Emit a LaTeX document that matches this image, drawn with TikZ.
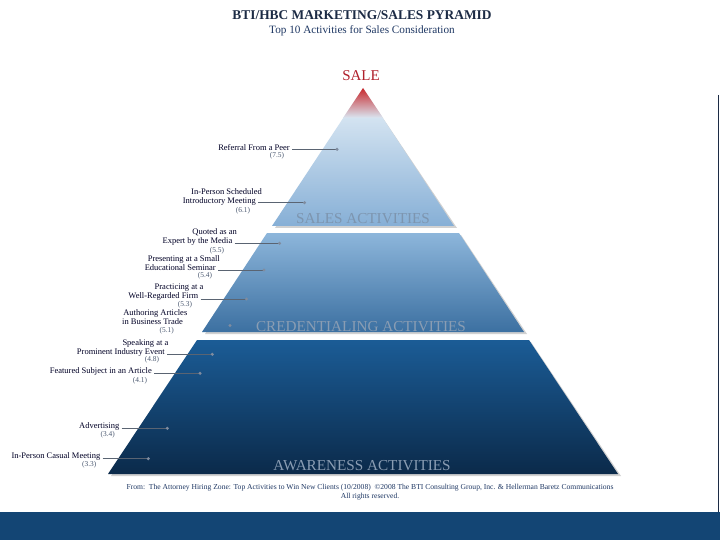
\documentclass[tikz,border=0pt]{standalone}
\usepackage{fontspec}
\setmainfont{Liberation Serif}
\begin{document}
\begin{tikzpicture}[x=1pt,y=-1pt,
  lbl/.style={inner sep=0pt,font=\fontsize{8.5}{9}\selectfont,text=black!85!blue,anchor=east},
  num/.style={inner sep=0pt,font=\fontsize{7.4}{8}\selectfont,text=numc},
  secl/.style={inner sep=0pt,font=\fontsize{15.2}{16}\selectfont,text=secc},
  lead/.style={draw=leadc,line width=0.7pt},
  shadowc/.style={fill=black,opacity=0.18}]
\definecolor{numc}{HTML}{4A5870}
\definecolor{secc}{HTML}{8A9DB3}
\definecolor{secc2}{HTML}{7D95AF}
\definecolor{leadc}{HTML}{5A6472}
\definecolor{dotcol}{HTML}{7F8CA0}
\definecolor{titc}{HTML}{1C2B45}
\definecolor{subc}{HTML}{1E3763}
\definecolor{band}{HTML}{134574}
\definecolor{salestop}{HTML}{E8F1F8}
\definecolor{salesbot}{HTML}{86AFD6}
\definecolor{credtop}{HTML}{8DB6DB}
\definecolor{credbot}{HTML}{3C70A1}
\definecolor{awtop}{HTML}{1B5C96}
\definecolor{awbot}{HTML}{0B2A4A}
\definecolor{salered}{HTML}{B0202C}
\definecolor{tipred}{HTML}{C8282C}
\useasboundingbox (0,0) rectangle (720,540);
\fill[white] (0,0) rectangle (720,540);
% bottom band and right edge
\fill[band] (0,512) rectangle (720,540);
\draw[titc,line width=1.5pt] (718.5,95) -- (718.5,512);
% titles
\node[inner sep=0pt,font=\fontsize{13.4}{14}\selectfont\bfseries,text=titc] (title) at (362,15) {BTI/HBC MARKETING/SALES PYRAMID};
\node[inner sep=0pt,font=\fontsize{11.2}{12}\selectfont,text=subc] (subtitle) at (362,31) {Top 10 Activities for Sales Consideration};
\node[inner sep=0pt,font=\fontsize{15}{16}\selectfont,text=salered] (sale) at (361,76) {SALE};
% shadows
\fill[shadowc] (364,90) -- (457,228) -- (275,228) -- cycle;
\fill[shadowc] (268,235) -- (461,235) -- (527,334) -- (205,334) -- cycle;
\fill[shadowc] (198,342) -- (531,342) -- (621,476) -- (111,476) -- cycle;
% sections
\shade[top color=salestop,bottom color=salesbot] (363,88) -- (454,226) -- (272,226) -- cycle;
\shade[top color=tipred,bottom color=salestop!85!salesbot] (363,88) -- (383,118) -- (343,118) -- cycle;
\shade[top color=credtop,bottom color=credbot] (267,233) -- (459,233) -- (524,332) -- (202,332) -- cycle;
\shade[top color=awtop,bottom color=awbot] (197,340) -- (529,340) -- (618,474) -- (108,474) -- cycle;
% section labels
\node[secl,text=secc2] (salesl) at (363,219) {SALES ACTIVITIES};
\node[secl] (credl) at (361,327) {CREDENTIALING ACTIVITIES};
\node[secl] (awl) at (362,466) {AWARENESS ACTIVITIES};
% dots
\coordinate (d1) at (337,149.3);
\coordinate (d2) at (304.5,202.7);
\coordinate (d3) at (279.5,243.3);
\coordinate (d4) at (264,270);
\coordinate (d5) at (246.5,299);
\coordinate (d6) at (230,325.5);
\coordinate (d7) at (212.3,354.3);
\coordinate (d8) at (200,373.3);
\coordinate (d9) at (167.3,428.3);
\coordinate (d10) at (148.3,458.7);
% labels
\node[lbl] (l1) at (290,148) {Referral From a Peer};
\node[num] (n1) at (277,155.5) {(7.5)};
\node[lbl] (l2a) at (262,191.7) {In-Person Scheduled};
\node[lbl] (l2) at (256,201) {Introductory Meeting};
\node[num] (n2) at (243,210.5) {(6.1)};
\node[lbl] (l3a) at (237,232.7) {Quoted as an};
\node[lbl] (l3) at (232.5,241.3) {Expert by the Media};
\node[num] (n3) at (217,250.7) {(5.5)};
\node[lbl] (l4a) at (220,259.3) {Presenting at a Small};
\node[lbl] (l4) at (216,267.7) {Educational Seminar};
\node[num] (n4) at (205,275.8) {(5.4)};
\node[lbl] (l5a) at (203.5,287.3) {Practicing at a};
\node[lbl] (l5) at (198.5,296) {Well-Regarded Firm};
\node[num] (n5) at (185,304.5) {(5.3)};
\node[lbl] (l6a) at (187.5,313.3) {Authoring Articles};
\node[lbl] (l6) at (183,321.5) {in Business Trade};
\node[num] (n6) at (166.7,331) {(5.1)};
\node[lbl] (l7a) at (168.5,343.3) {Speaking at a};
\node[lbl] (l7) at (165,352.7) {Prominent Industry Event};
\node[num] (n7) at (152,360) {(4.8)};
\node[lbl] (l8) at (152,371.7) {Featured Subject in an Article};
\node[num] (n8) at (140,380.7) {(4.1)};
\node[lbl] (l9) at (119.5,426) {Advertising};
\node[num] (n9) at (107.7,434.3) {(3.4)};
\node[lbl] (l10) at (100.5,456.7) {In-Person Casual Meeting};
\node[num] (n10) at (89.3,465) {(3.3)};
% leaders
\foreach \l/\d in {l1/d1,l2/d2,l3/d3,l4/d4,l5/d5,l7/d7,l8/d8,l9/d9,l10/d10}{
  \draw[lead] ([xshift=2pt]\l.east |- \d) -- (\d);
}
\foreach \d in {d1,d2,d3,d4,d5,d6,d7,d8,d9,d10}{
  \fill[dotcol] (\d) circle[radius=1.7];
}
% footer
\node[inner sep=0pt,font=\fontsize{7.6}{8}\selectfont,text=subc] (foot1) at (370,488) {From:\ \ The Attorney Hiring Zone: Top Activities to Win New Clients (10/2008)\ \ \textcopyright2008 The BTI Consulting Group, Inc. \& Hellerman Baretz Communications};
\node[inner sep=0pt,font=\fontsize{7.6}{8}\selectfont,text=subc] (foot2) at (370,497) {All rights reserved.};
\end{tikzpicture}
\end{document}
